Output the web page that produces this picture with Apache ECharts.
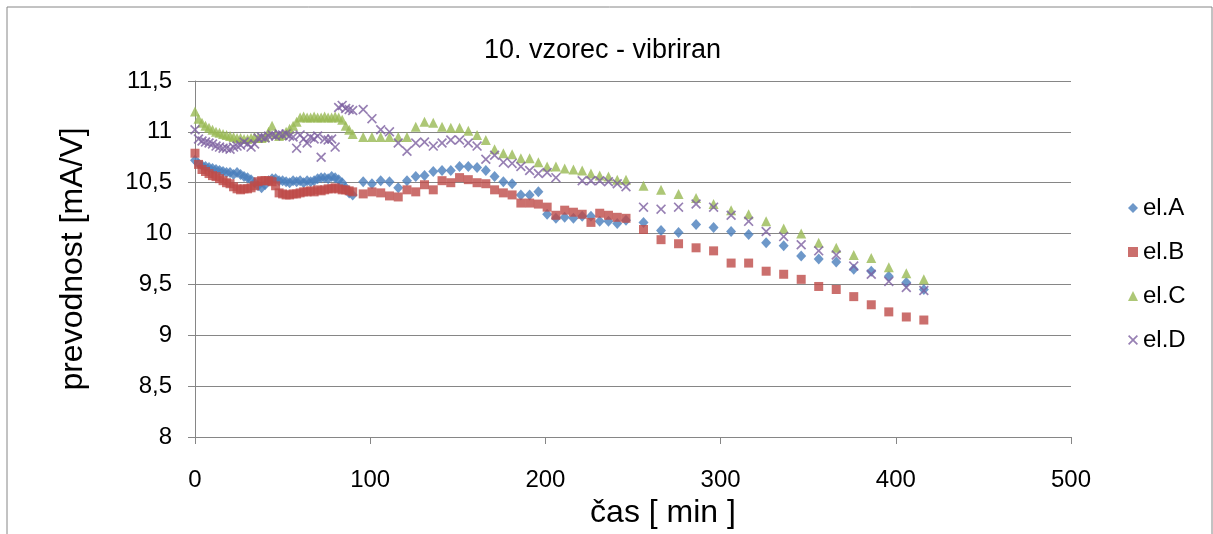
<!DOCTYPE html>
<html><head><meta charset="utf-8">
<script src="https://cdn.jsdelivr.net/npm/echarts@6/dist/echarts.min.js"></script>
<style>html,body{margin:0;padding:0;background:#fff}#c{width:1213px;height:534px}</style>
</head><body><div id="c"></div>
<script>
// time points [min]
var timeA = [0,2,4,6,8,10,12,14,16,18,20,22,24,26,28,30,32,34,36,38,40,42,44,46,48,50,52,54,56,58,60,62,64,66,68,70,72,74,76,78,80,82,84,86,88,90];
var timeB = [96,101,106,111,116,121,126,131,136,141,146,151,156,161,166,171,176,181,186,191,196,201,206,211,216,221,226,231,236,241,246];
var timeC = [256,266,276,286,296,306,316,326,336,346,356,366,376,386,396,406,416];

// el.A
var elA1 = [10.72,10.69,10.67,10.66,10.65,10.64,10.63,10.62,10.61,10.60,10.60,10.58,10.60,10.58,10.56,10.55,10.53,10.50,10.47,10.45,10.48,10.52,10.54,10.54,10.52,10.52,10.51,10.50,10.52,10.51,10.52,10.50,10.52,10.51,10.52,10.54,10.55,10.55,10.54,10.56,10.55,10.53,10.50,10.45,10.40,10.38];
var elA2 = [10.51,10.49,10.52,10.51,10.45,10.52,10.56,10.57,10.61,10.62,10.62,10.66,10.66,10.65,10.62,10.56,10.51,10.49,10.38,10.38,10.41,10.19,10.15,10.16,10.15,10.17,10.17,10.12,10.12,10.10,10.13];
var elA3 = [10.11,10.03,10.01,10.09,10.06,10.02,9.99,9.91,9.88,9.78,9.75,9.72,9.65,9.63,9.58,9.52,9.45];
// el.B
var elB1 = [10.79,10.68,10.63,10.61,10.59,10.57,10.56,10.54,10.52,10.50,10.49,10.46,10.44,10.43,10.44,10.44,10.45,10.47,10.51,10.52,10.52,10.52,10.51,10.47,10.40,10.39,10.38,10.38,10.39,10.39,10.40,10.41,10.41,10.42,10.41,10.43,10.42,10.43,10.44,10.44,10.45,10.44,10.43,10.43,10.42,10.41];
var elB2 = [10.39,10.41,10.40,10.37,10.36,10.43,10.41,10.48,10.43,10.52,10.50,10.55,10.53,10.50,10.49,10.43,10.40,10.38,10.30,10.30,10.29,10.26,10.18,10.23,10.21,10.19,10.11,10.20,10.18,10.16,10.15];
var elB3 = [10.04,9.94,9.90,9.86,9.83,9.71,9.71,9.63,9.60,9.55,9.48,9.45,9.38,9.30,9.23,9.18,9.15];
// el.C
var elC1 = [11.20,11.13,11.09,11.06,11.04,11.02,11.00,10.99,10.98,10.97,10.96,10.95,10.94,10.94,10.93,10.93,10.94,10.95,10.94,10.94,10.95,11.00,11.06,10.98,10.96,10.97,11.00,11.03,11.06,11.10,11.14,11.15,11.14,11.14,11.15,11.14,11.14,11.15,11.14,11.14,11.15,11.14,11.12,11.06,11.02,10.98];
var elC2 = [10.95,10.95,10.95,10.95,10.95,10.95,11.05,11.10,11.09,11.05,11.04,11.04,11.01,10.97,10.92,10.83,10.79,10.78,10.74,10.74,10.70,10.66,10.66,10.64,10.63,10.62,10.59,10.57,10.56,10.53,10.53];
var elC3 = [10.47,10.43,10.39,10.35,10.29,10.23,10.19,10.12,10.05,10.00,9.91,9.86,9.79,9.76,9.67,9.61,9.55];
// el.D
var elD1 = [11.02,10.93,10.91,10.90,10.89,10.88,10.86,10.85,10.84,10.84,10.83,10.85,10.86,10.87,10.90,10.88,10.85,10.88,10.94,10.95,10.94,10.96,10.97,10.96,10.98,10.97,10.98,10.96,10.95,10.84,10.97,10.93,10.89,10.95,10.93,10.96,10.75,10.93,10.92,10.93,10.85,11.24,11.26,11.23,11.22,11.21];
var elD2 = [11.22,11.13,11.02,11.00,10.89,10.81,10.89,10.90,10.86,10.89,10.92,10.92,10.89,10.86,10.73,10.77,10.70,10.69,10.66,10.62,10.59,10.60,10.55,null,null,10.52,10.52,10.52,10.51,10.49,10.46];
var elD3 = [10.26,10.24,10.26,10.29,10.26,10.18,10.12,10.02,9.97,9.89,9.83,9.79,9.68,9.60,9.53,9.47,9.44];

var seriesNames = ['el.A','el.B','el.C','el.D'];

function pairs(parts){
  var out=[];
  parts.forEach(function(p){
    for(var i=0;i<p[0].length;i++){ if(p[1][i]!=null) out.push([p[0][i],p[1][i]]); }
  });
  return out;
}
var dataA = pairs([[timeA,elA1],[timeB,elA2],[timeC,elA3]]);
var dataB = pairs([[timeA,elB1],[timeB,elB2],[timeC,elB3]]);
var dataC = pairs([[timeA,elC1],[timeB,elC2],[timeC,elC3]]);
var dataD = pairs([[timeA,elD1],[timeB,elD2],[timeC,elD3]]);

var xPath = 'path://M0,1.2 L1.2,0 L5,3.8 L8.8,0 L10,1.2 L6.2,5 L10,8.8 L8.8,10 L5,6.2 L1.2,10 L0,8.8 L3.8,5 Z';
var FONT = 'Liberation Sans';
var chart = echarts.init(document.getElementById('c'), null, {renderer:'canvas'});
chart.setOption({
  backgroundColor:'#ffffff',
  animation:false,
  textStyle:{fontFamily:FONT,color:'#000'},
  graphic:[{type:'rect',shape:{x:7,y:7,width:1205,height:560},style:{fill:'none',stroke:'#868686',lineWidth:1}}],
  title:{text:'10. vzorec - vibriran',left:479,top:32,textStyle:{fontFamily:FONT,fontSize:27,fontWeight:'normal',color:'#000'}},
  legend:{orient:'vertical',left:1123,top:191,itemGap:20,itemWidth:10,itemHeight:10,
    textStyle:{fontFamily:FONT,fontSize:24,color:'#000'},
    data:[{name:'el.A',icon:'diamond'},{name:'el.B',icon:'rect'},{name:'el.C',icon:'triangle'},{name:'el.D',icon:xPath}]},
  grid:{left:195,right:142,top:81,bottom:97,containLabel:false},
  xAxis:{type:'value',min:0,max:500,interval:100,
    name:'čas [ min ]',nameLocation:'middle',nameGap:59,
    nameTextStyle:{fontFamily:FONT,fontSize:32,color:'#000',padding:[0,0,0,60]},
    axisLine:{show:true,lineStyle:{color:'#868686',width:1}},
    axisTick:{show:true,length:7,lineStyle:{color:'#868686'}},
    axisLabel:{fontFamily:FONT,fontSize:24,color:'#000',margin:31},
    splitLine:{show:false}},
  yAxis:{type:'value',min:8,max:11.5,interval:0.5,
    name:'prevodnost [mA/V]',nameLocation:'middle',nameGap:106,
    nameTextStyle:{fontFamily:FONT,fontSize:32,color:'#000'},
    axisLine:{show:true,lineStyle:{color:'#868686',width:1}},
    axisTick:{show:true,length:7,lineStyle:{color:'#868686'}},
    axisLabel:{fontFamily:FONT,fontSize:24,color:'#000',margin:23,formatter:function(v){return String(v).replace('.',',');}},
    splitLine:{show:true,lineStyle:{color:'#868686',width:1}}},
  series:[
    {name:'el.A',type:'scatter',data:dataA,symbol:'diamond',symbolSize:[10,11],itemStyle:{color:'#4A7EBB'}},
    {name:'el.B',type:'scatter',data:dataB,symbol:'rect',symbolSize:9,itemStyle:{color:'#BE4B48'}},
    {name:'el.C',type:'scatter',data:dataC,symbol:'triangle',symbolSize:[10,10],itemStyle:{color:'#98B954'}},
    {name:'el.D',type:'scatter',data:dataD,symbol:xPath,symbolSize:10,itemStyle:{color:'#7D60A0'}}
  ]
});
</script></body></html>
